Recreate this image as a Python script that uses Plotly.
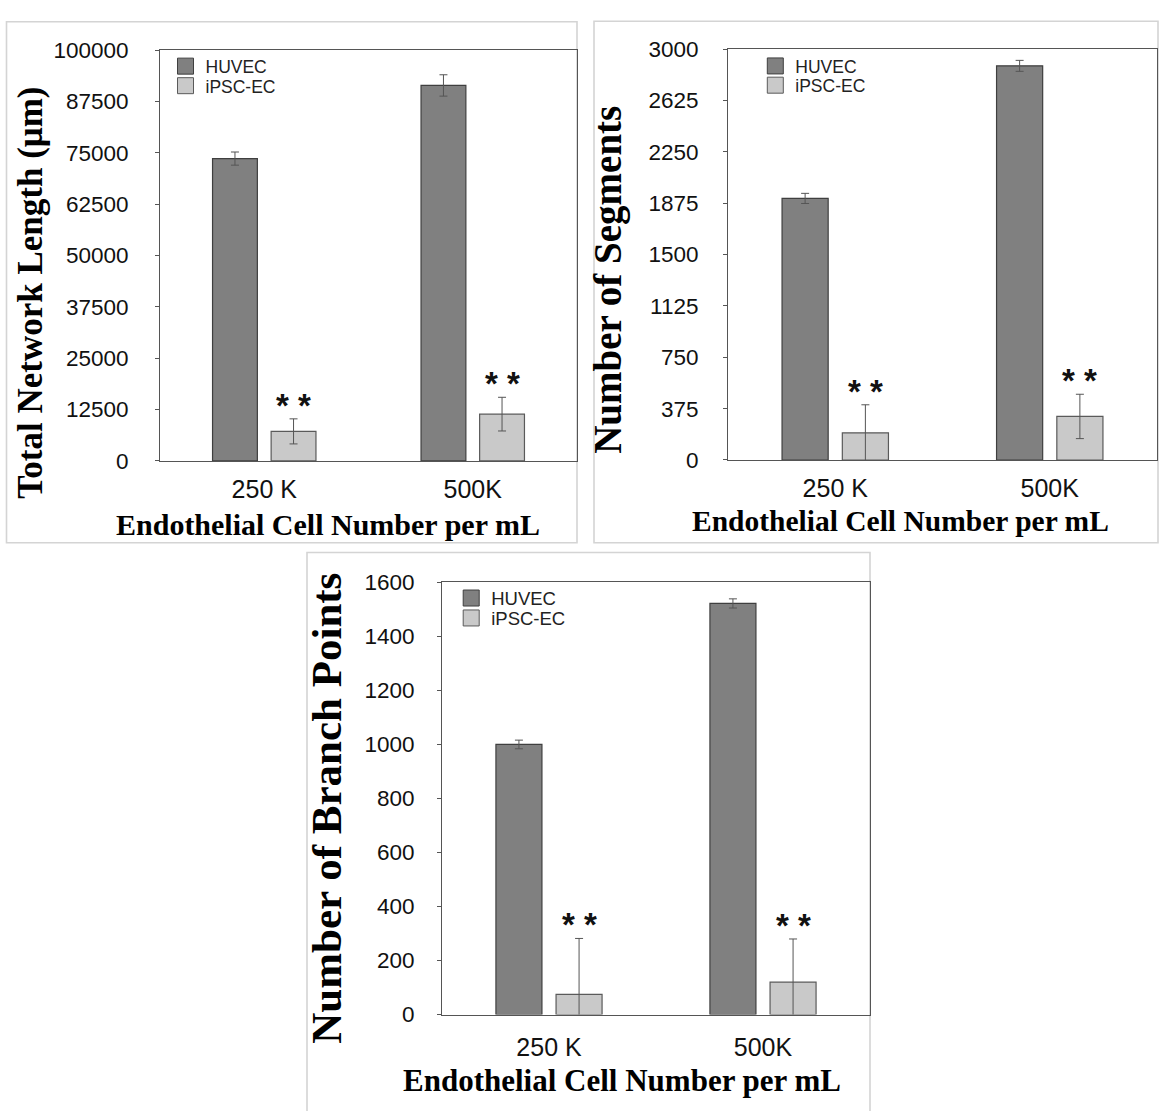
import plotly.graph_objects as go

# ---- data -------------------------------------------------------------
categories = ["250 K", "500K"]
series_names = ["HUVEC", "iPSC-EC"]

network_length_huvec = [73600, 91400]
network_length_huvec_err = [1600, 2600]
network_length_ipsc = [7200, 11400]
network_length_ipsc_err = [3050, 4100]

segments_huvec = [1910, 2878]
segments_huvec_err = [37, 40]
segments_ipsc = [198, 318]
segments_ipsc_err = [205, 162]

branch_huvec = [1000, 1522]
branch_huvec_err = [16, 17]
branch_ipsc = [75, 120]
branch_ipsc_err = [207, 160]

significance = ["* *", "* *"]

length_ticks = [0, 12500, 25000, 37500, 50000, 62500, 75000, 87500, 100000]
segment_ticks = [0, 375, 750, 1125, 1500, 1875, 2250, 2625, 3000]
branch_ticks = [0, 200, 400, 600, 800, 1000, 1200, 1400, 1600]

x_title = "Endothelial Cell Number per mL"
y_titles = ["Total Network Length (μm)", "Number of Segments", "Number of Branch Points"]

# ---- styling ----------------------------------------------------------
W, H = 1159, 1111
SANS = "Liberation Sans, Arial, sans-serif"
SERIF = "Liberation Serif, Times New Roman, serif"
DARK_FILL, DARK_LINE = "#808080", "#3f3f3f"
LIGHT_FILL, LIGHT_LINE = "#c9c9c9", "#5a5a5a"
AXIS_COLOR = "#555555"
BAR_W = 0.215
OFF_A, OFF_B = -0.248, 0.033


def px(x):
    return x / W


def py(y):
    return 1 - y / H


panels = [
    dict(huvec=network_length_huvec, huvec_err=network_length_huvec_err,
         ipsc=network_length_ipsc, ipsc_err=network_length_ipsc_err,
         ticks=length_ticks, plot=(160, 577, 39, 459.3),
         frame=(6.5, 577, 10, 543), legend_x=165.5, legend_y=(55.5, 75.5),
         legend_font=17.5, ystand=22, xstand=6,
         ytitle=(29.8, 287.5, 35), xtitle=(328, 524, 30)),
    dict(huvec=segments_huvec, huvec_err=segments_huvec_err,
         ipsc=segments_ipsc, ipsc_err=segments_ipsc_err,
         ticks=segment_ticks, plot=(728, 1157, 38, 458.3),
         frame=(594, 1158, 9.5, 543), legend_x=755.3, legend_y=(55.3, 75),
         legend_font=17.5, ystand=20, xstand=6,
         ytitle=(608, 274, 39), xtitle=(900, 521, 29.5)),
    dict(huvec=branch_huvec, huvec_err=branch_huvec_err,
         ipsc=branch_ipsc, ipsc_err=branch_ipsc_err,
         ticks=branch_ticks, plot=(442, 870, 583.5, 1025.7),
         frame=(307, 870, 553, 1125), legend_x=451.2, legend_y=(600, 620.4),
         legend_font=18.5, ystand=18, xstand=10,
         ytitle=(327, 814, 43), xtitle=(622, 1093, 31)),
]

fig = go.Figure()
layout = dict(
    width=W, height=H,
    margin=dict(l=0, r=0, t=0, b=0),
    paper_bgcolor="white", plot_bgcolor="white",
    barmode="overlay",
    showlegend=True,
    hovermode=False,
    shapes=[], annotations=[],
)

legend_no = 0
for i, p in enumerate(panels):
    n = "" if i == 0 else str(i + 1)
    xa, ya = "x" + n, "y" + n

    fig.add_trace(go.Bar(
        x=categories, y=p["huvec"], name=series_names[0],
        width=BAR_W, offset=OFF_A,
        marker=dict(color=DARK_FILL, line=dict(color=DARK_LINE, width=1.2)),
        error_y=dict(type="data", array=p["huvec_err"], color=AXIS_COLOR,
                     thickness=1, width=4),
        xaxis=xa, yaxis=ya, showlegend=False,
    ))
    fig.add_trace(go.Bar(
        x=categories, y=p["ipsc"], name=series_names[1],
        width=BAR_W, offset=OFF_B,
        marker=dict(color=LIGHT_FILL, line=dict(color=LIGHT_LINE, width=1.2)),
        error_y=dict(type="data", array=p["ipsc_err"], color=AXIS_COLOR,
                     thickness=1, width=4),
        xaxis=xa, yaxis=ya, showlegend=False,
    ))

    # one single-entry legend per series so each swatch row sits exactly
    for k, (name, fill, edge) in enumerate([(series_names[0], DARK_FILL, DARK_LINE),
                                            (series_names[1], LIGHT_FILL, LIGHT_LINE)]):
        legend_no += 1
        leg = "legend" if legend_no == 1 else "legend" + str(legend_no)
        fig.add_trace(go.Scatter(
            x=[None], y=[None], mode="markers", name=name,
            marker=dict(symbol="square", size=16, color=fill,
                        line=dict(color=edge, width=1)),
            xaxis=xa, yaxis=ya, legend=leg, showlegend=True,
        ))
        layout[leg] = dict(
            x=px(p["legend_x"]), y=py(p["legend_y"][k]),
            xanchor="left", yanchor="middle",
            bgcolor="rgba(0,0,0,0)", borderwidth=0, itemsizing="trace",
            font=dict(family=SANS, size=p["legend_font"], color="#222222"),
            itemclick=False, itemdoubleclick=False,
        )

    x0, x1, y0, y1 = p["plot"]
    layout["xaxis" + n] = dict(
        domain=[px(x0), px(x1)], anchor=ya,
        type="category", categoryorder="array", categoryarray=categories,
        range=[-0.5, len(categories) - 0.5],
        showline=True, linecolor=AXIS_COLOR, linewidth=1, mirror=True,
        ticks="", showgrid=False, zeroline=False,
        tickfont=dict(family=SANS, size=25, color="#111111"),
        ticklabelstandoff=p["xstand"], fixedrange=True,
    )
    ticks = p["ticks"]
    layout["yaxis" + n] = dict(
        domain=[py(y1), py(y0)], anchor=xa,
        range=[ticks[0], ticks[-1]], tickvals=ticks, tickformat="d",
        showline=True, linecolor=AXIS_COLOR, linewidth=1, mirror=True,
        ticks="outside", ticklen=4, tickcolor=AXIS_COLOR,
        showgrid=False, zeroline=False,
        tickfont=dict(family=SANS, size=22.5, color="#111111"),
        ticklabelstandoff=p["ystand"], fixedrange=True,
    )

    fx0, fx1, fy0, fy1 = p["frame"]
    layout["shapes"].append(dict(
        type="rect", xref="paper", yref="paper",
        x0=px(fx0), x1=px(fx1), y0=py(fy1), y1=py(fy0),
        line=dict(color="#d4d4d4", width=1.6), layer="below",
    ))

    # significance marks above the iPSC-EC error bars
    for k in range(len(categories)):
        layout["annotations"].append(dict(
            x=k + OFF_B + BAR_W / 2, xref=xa,
            y=p["ipsc"][k] + p["ipsc_err"][k], yref=ya,
            text="<b>" + significance[k] + "</b>", showarrow=False,
            xanchor="center", yanchor="bottom", yshift=-7,
            font=dict(family=SANS, size=33, color="#111111"),
        ))

    tx, ty, tsize = p["xtitle"]
    layout["annotations"].append(dict(
        x=px(tx), y=py(ty), xref="paper", yref="paper", showarrow=False,
        xanchor="center", yanchor="middle",
        text="<b>" + x_title + "</b>",
        font=dict(family=SERIF, size=tsize, color="#000000"),
    ))
    vx, vy, vsize = p["ytitle"]
    layout["annotations"].append(dict(
        x=px(vx), y=py(vy), xref="paper", yref="paper", showarrow=False,
        xanchor="center", yanchor="middle",
        text="<b>" + y_titles[i] + "</b>", textangle=-90,
        font=dict(family=SERIF, size=vsize, color="#000000"),
    ))

fig.update_layout(**layout)
fig.write_html("out.html")
